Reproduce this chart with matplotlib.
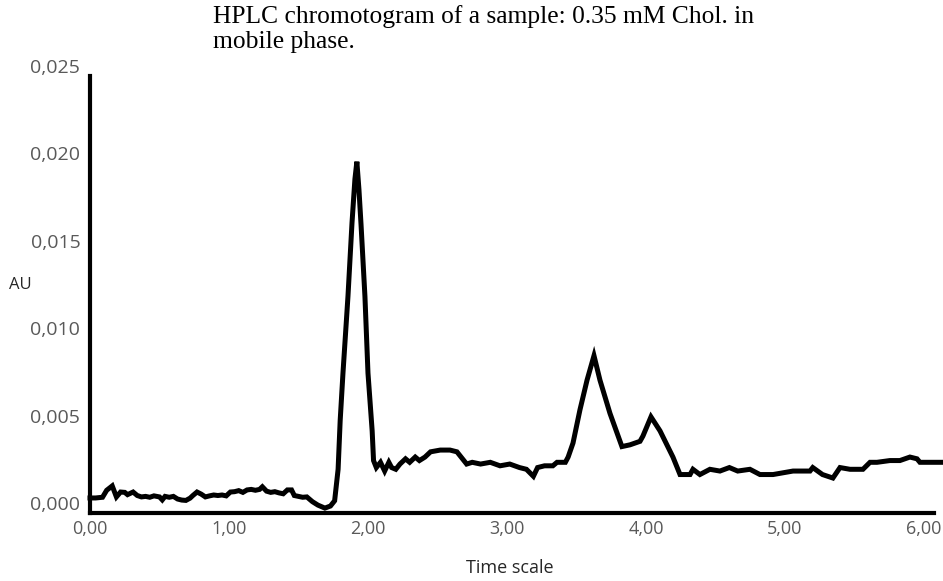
import matplotlib
matplotlib.use("Agg")
import matplotlib.pyplot as plt
import matplotlib.transforms as mtransforms

# Retention time (min) and absorbance (AU)
time_min = [
    0.00, 0.04, 0.09, 0.12, 0.16, 0.19, 0.22, 0.25, 0.27, 0.31, 0.34, 0.37, 0.40,
    0.43, 0.46, 0.50, 0.52, 0.54, 0.57, 0.60, 0.63, 0.66, 0.69, 0.72, 0.74, 0.77,
    0.80, 0.83, 0.86, 0.89, 0.92, 0.95, 0.98, 1.01, 1.04, 1.07, 1.10, 1.13, 1.16,
    1.19, 1.22, 1.24, 1.27, 1.30, 1.33, 1.36, 1.39, 1.42, 1.45, 1.47, 1.50, 1.53,
    1.56, 1.60, 1.64, 1.69, 1.73, 1.76, 1.785, 1.80, 1.82, 1.856, 1.885, 1.906,
    1.92, 1.935, 1.95, 1.978, 2.00, 2.03, 2.04, 2.06, 2.09, 2.12, 2.15, 2.17,
    2.20, 2.23, 2.27, 2.30, 2.34, 2.37, 2.41, 2.45, 2.52, 2.59, 2.64, 2.68, 2.71,
    2.75, 2.81, 2.88, 2.95, 3.02, 3.09, 3.14, 3.19, 3.22, 3.27, 3.33, 3.36, 3.42,
    3.44, 3.475, 3.525, 3.576, 3.626, 3.669, 3.741, 3.827, 3.885, 3.957, 3.978,
    4.036, 4.101, 4.194, 4.245, 4.317, 4.338, 4.388, 4.46, 4.532, 4.60, 4.66,
    4.748, 4.82, 4.914, 4.986, 5.058, 5.18, 5.20, 5.27, 5.345, 5.396, 5.468,
    5.561, 5.612, 5.662, 5.755, 5.827, 5.899, 5.95, 5.971, 6.043, 6.137,
]
absorbance = [
    0.00086, 0.00086, 0.00090, 0.00130, 0.00155, 0.00092, 0.00120, 0.00118,
    0.00105, 0.00120, 0.00100, 0.00092, 0.00095, 0.00090, 0.00098, 0.00092,
    0.00075, 0.00095, 0.00090, 0.00095, 0.00080, 0.00074, 0.00072, 0.00085,
    0.00100, 0.00120, 0.00108, 0.00092, 0.00098, 0.00103, 0.00100, 0.00103,
    0.00098, 0.00120, 0.00122, 0.00128, 0.00118, 0.00132, 0.00135, 0.00130,
    0.00135, 0.00150, 0.00125, 0.00118, 0.00122, 0.00115, 0.00110, 0.00132,
    0.00132, 0.00100, 0.00095, 0.00090, 0.00092, 0.00065, 0.00045, 0.00028,
    0.00040, 0.00070, 0.0025, 0.0053, 0.0080, 0.0124, 0.0166, 0.0191,
    0.0201, 0.0185, 0.0165, 0.0124, 0.0080, 0.0047, 0.0030, 0.0026, 0.0029,
    0.0024, 0.0029, 0.0026, 0.0025, 0.0028, 0.0031, 0.0029, 0.0032, 0.0030,
    0.0032, 0.0035, 0.0036, 0.0036, 0.0035, 0.0031, 0.0028, 0.0029, 0.0028,
    0.0029, 0.0027, 0.0028, 0.0026, 0.0025, 0.0021, 0.0026, 0.0027, 0.0027,
    0.0029, 0.0029, 0.0032, 0.0040, 0.0059, 0.0076, 0.0090, 0.0076, 0.0057,
    0.0038, 0.0039, 0.0041, 0.0044, 0.0055, 0.0047, 0.0032, 0.0022, 0.0022,
    0.0025, 0.0022, 0.0025, 0.0024, 0.0026, 0.0024, 0.0025, 0.0022, 0.0022,
    0.0023, 0.0024, 0.0024, 0.0026, 0.0022, 0.0020, 0.0026, 0.0025, 0.0025,
    0.0029, 0.0029, 0.0030, 0.0030, 0.0032, 0.0031, 0.0029, 0.0029, 0.0029,
]

x_ticks = [0, 1, 2, 3, 4, 5, 6]
x_tick_labels = ["0,00", "1,00", "2,00", "3,00", "4,00", "5,00", "6,00"]
y_ticks = [0.000, 0.005, 0.010, 0.015, 0.020, 0.025]
y_tick_labels = ["0,000", "0,005", "0,010", "0,015", "0,020", "0,025"]

title_text = "HPLC chromotogram of a sample: 0.35 mM Chol. in\nmobile phase."

W, H = 943, 581
fig = plt.figure(figsize=(W / 100, H / 100), dpi=100)
ax = fig.add_axes([90 / W, (H - 513) / H, (W - 90) / W, (513 - 76) / H])

ax.plot(time_min, absorbance, color="black", lw=3.6, solid_joinstyle="miter",
        clip_on=False)

ax.set_xlim(0, 6.137)
ax.set_ylim(0, 0.025)
ax.set_xticks(x_ticks)
ax.set_xticklabels(x_tick_labels)
ax.set_yticks(y_ticks)
ax.set_yticklabels(y_tick_labels)

for s in ["top", "right"]:
    ax.spines[s].set_visible(False)
for s in ["left", "bottom"]:
    ax.spines[s].set_linewidth(3.0)
    ax.spines[s].set_color("black")
ax.spines["bottom"].set_bounds(0, 6.07)

tick_font = "Open Sans"
ax.tick_params(axis="both", length=0, colors="#595959")
ax.tick_params(axis="y", pad=7, labelsize=14)
ax.tick_params(axis="x", pad=5, labelsize=13)
for lab in ax.get_xticklabels() + ax.get_yticklabels():
    lab.set_fontfamily(tick_font)

offset = mtransforms.ScaledTranslation(0, 10 / 100, fig.dpi_scale_trans)
for lab in ax.get_yticklabels():
    lab.set_transform(lab.get_transform() + offset)

fig.text(20 / W, 1 - 285 / H, "AU", fontsize=12, family=tick_font,
         color="#262626", ha="center", va="center")
fig.text(510 / W, 1 - 568 / H, "Time scale", fontsize=13, family=tick_font,
         color="#262626", ha="center", va="center")
fig.text(213 / W, 1 - 5 / H, title_text, fontsize=18.4, family="Liberation Serif",
         color="black", ha="left", va="top", linespacing=1.2)

fig.savefig("out.png", dpi=100)
